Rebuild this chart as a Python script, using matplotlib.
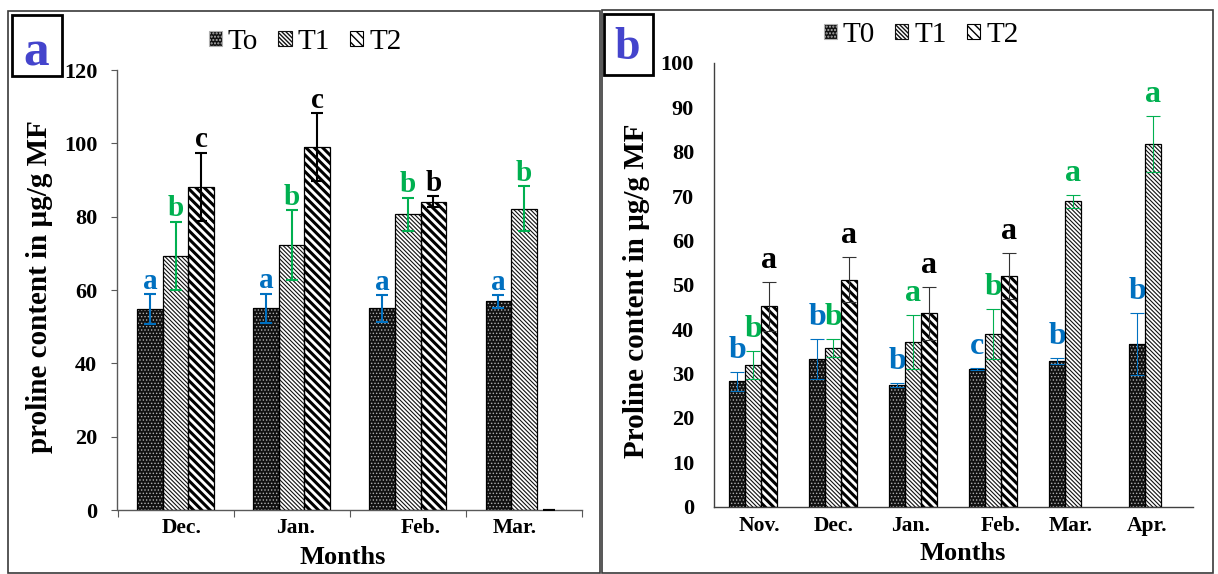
import numpy as np
import matplotlib
matplotlib.use('Agg')
import matplotlib.pyplot as plt
from matplotlib.patches import Patch, Rectangle

plt.rcParams['font.family'] = ['Liberation Serif', 'DejaVu Serif']

# ---- panel a data ----
months_a = ['Dec.', 'Jan.', 'Feb.', 'Mar.']
names_a = ['To', 'T1', 'T2']
t0_a = [54.7, 55.0, 55.0, 56.9]
t1_a = [69.3, 72.2, 80.6, 82.2]
t2_a = [88.2, 99.0, 84.1, 0.0]
t0_err_a = [4.1, 4.0, 3.6, 1.7]
t1_err_a = [9.3, 9.6, 4.5, 6.1]
t2_err_a = [9.3, 9.2, 1.5, 0.0]
t0_let_a = ['a', 'a', 'a', 'a']
t1_let_a = ['b', 'b', 'b', 'b']
t2_let_a = ['c', 'c', 'b', '']

# ---- panel b data ----
months_b = ['Nov.', 'Dec.', 'Jan.', 'Feb.', 'Mar.', 'Apr.']
names_b = ['T0', 'T1', 'T2']
t0_b = [28.2, 33.3, 27.4, 31.0, 32.8, 36.6]
t1_b = [31.9, 35.7, 37.1, 38.9, 68.8, 81.8]
t2_b = [45.1, 51.1, 43.6, 51.9, np.nan, np.nan]
t0_err_b = [2.2, 4.5, 0.4, 0.3, 0.6, 7.0]
t1_err_b = [3.2, 2.1, 6.0, 5.6, 1.4, 6.3]
t2_err_b = [5.5, 5.1, 6.0, 5.2, np.nan, np.nan]
t0_let_b = ['b', 'b', 'b', 'c', 'b', 'b']
t1_let_b = ['b', 'b', 'a', 'b', 'a', 'a']
t2_let_b = ['a', 'a', 'a', 'a', '', '']

W, H = 1218, 574
BLUE = '#0070C0'
GREEN = '#00B050'
AXIS_GREY = '#595959'

# (face, hatch colour, hatch, hatch linewidth)
HATCHES = [('#111111', '#b0b0b0', '.' * 5, 0.6),
           ('white', '#111111', '\\' * 8, 0.8),
           ('white', 'black', '\\' * 4, 2.2)]


def fx(px):
    return px / W


def fy(py):
    return 1 - py / H


def draw_bars(ax, pos, vals, width, k):
    face, hcol, hatch, hlw = HATCHES[k]
    bars = ax.bar(pos, vals, width, color=face, edgecolor=hcol, linewidth=0,
                  hatch=hatch, zorder=2)
    for p in bars:
        if hasattr(p, 'set_hatch_linewidth'):
            p.set_hatch_linewidth(hlw)
    lws = [0.9 if (v == v and v > 0) else 0 for v in vals]
    ax.bar(pos, vals, width, fill=False, edgecolor='black', linewidth=lws, zorder=3)


def legend_handles():
    hs = []
    for face, hcol, hatch, hlw in HATCHES:
        p = Patch(facecolor=face, edgecolor=hcol, hatch=hatch, linewidth=0.8)
        if hasattr(p, 'set_hatch_linewidth'):
            p.set_hatch_linewidth(hlw)
        hs.append(p)
    return hs


def draw_panel(ax, months, series, errs, lets, width, err_cols, let_cols,
               err_lw, capsize, let_size, let_pad, label_offsets, label_drop):
    x = np.arange(len(months))
    for k in range(3):
        pos = x + (k - 1) * width
        draw_bars(ax, pos, series[k], width, k)
        ax.errorbar(pos, series[k], yerr=errs[k], fmt='none', ecolor=err_cols[k],
                    elinewidth=err_lw, capsize=capsize, capthick=err_lw, zorder=4)
        for p, v, e, l in zip(pos, series[k], errs[k], lets[k]):
            if l:
                ax.annotate(l, (p, v + e), xytext=(0, let_pad), textcoords='offset points',
                            ha='center', va='baseline', fontsize=let_size,
                            fontweight='bold', color=let_cols[k])
    for i, m in enumerate(months):
        ax.annotate(m, (i + label_offsets[i], 0), xycoords=ax.get_xaxis_transform(),
                    xytext=(0, -label_drop), textcoords='offset points',
                    ha='center', va='center', fontsize=15.5, fontweight='bold')
    ax.set_xlim(-0.5, len(months) - 0.5)
    for s in ['top', 'right']:
        ax.spines[s].set_visible(False)
    for s in ['left', 'bottom']:
        ax.spines[s].set_color(AXIS_GREY)
        ax.spines[s].set_linewidth(1.0)
    for t in ax.get_yticklabels():
        t.set_fontweight('bold')
        t.set_fontsize(16)


fig = plt.figure(figsize=(W / 100, H / 100), dpi=100)

# panel frames
fig.add_artist(Rectangle((fx(8), fy(573)), fx(600 - 8), (573 - 11) / H,
                         transform=fig.transFigure, fill=False, ec='#3a3a3a', lw=1.2))
fig.add_artist(Rectangle((fx(602), fy(573)), fx(1213 - 602), (573 - 10) / H,
                         transform=fig.transFigure, fill=False, ec='#3a3a3a', lw=1.2))

# ---- panel a ----
ax_a = fig.add_axes([fx(117.5), fy(510), fx(582 - 117.5), (510 - 70) / H])
ax_a.set_ylim(0, 120)
ax_a.set_yticks(np.arange(0, 121, 20))
draw_panel(ax_a, months_a, [t0_a, t1_a, t2_a], [t0_err_a, t1_err_a, t2_err_a],
           [t0_let_a, t1_let_a, t2_let_a], 0.22, [BLUE, GREEN, 'black'],
           [BLUE, GREEN, 'black'], 1.5, 4.5, 21, 4, [0.056, 0.03, 0.11, -0.075], 13)
ax_a.set_xticks(np.arange(-0.5, len(months_a), 1))
ax_a.set_xticklabels([])
ax_a.tick_params(axis='x', length=5, color=AXIS_GREY, direction='out')
ax_a.tick_params(axis='y', length=4, color=AXIS_GREY, pad=10.5)

fig.text(fx(343), fy(557), 'Months', ha='center', va='center', fontsize=19, fontweight='bold')
fig.text(fx(40), fy(287), 'proline content in µg/g MF', rotation=90, ha='center',
         va='center', fontsize=21, fontweight='bold')
fig.legend(legend_handles(), names_a, loc='center', bbox_to_anchor=(fx(305), fy(42)),
           ncol=3, frameon=False, fontsize=21, handlelength=0.45, handleheight=0.45,
           handletextpad=0.2, columnspacing=0.7, borderpad=0)

fig.add_artist(Rectangle((fx(11.5), fy(76)), fx(50), 61 / H, transform=fig.transFigure,
                         fc='white', ec='black', lw=2))
fig.text(fx(36.5), fy(65), 'a', ha='center', va='baseline', fontsize=37,
         fontweight='bold', color='#4444CC')

# ---- panel b ----
ax_b = fig.add_axes([fx(713.5), fy(506.5), fx(1193 - 713.5), (506.5 - 63) / H])
ax_b.set_ylim(0, 100)
ax_b.set_yticks(np.arange(0, 101, 10))
draw_panel(ax_b, months_b, [t0_b, t1_b, t2_b], [t0_err_b, t1_err_b, t2_err_b],
           [t0_let_b, t1_let_b, t2_let_b], 0.2, [BLUE, GREEN, '#333333'],
           [BLUE, GREEN, 'black'], 0.8, 4.7, 23, 10, [0.076, 0.0, -0.04, 0.1, -0.03, -0.08], 14)
ax_b.set_xticks([])
ax_b.tick_params(axis='y', length=0, pad=14)
ax_b.spines['left'].set_color('#404040')
ax_b.spines['bottom'].set_color('#404040')

fig.text(fx(963), fy(553), 'Months', ha='center', va='center', fontsize=19, fontweight='bold')
fig.text(fx(636), fy(291), 'Proline content in µg/g MF', rotation=90, ha='center',
         va='center', fontsize=21, fontweight='bold')
fig.legend(legend_handles(), names_b, loc='center', bbox_to_anchor=(fx(921), fy(35)),
           ncol=3, frameon=False, fontsize=21, handlelength=0.45, handleheight=0.45,
           handletextpad=0.2, columnspacing=0.7, borderpad=0)

fig.add_artist(Rectangle((fx(604), fy(75)), fx(49), 61 / H, transform=fig.transFigure,
                         fc='white', ec='black', lw=2))
fig.text(fx(627.5), fy(59), 'b', ha='center', va='baseline', fontsize=33,
         fontweight='bold', color='#4444CC')

fig.savefig('out.png', dpi=100)
